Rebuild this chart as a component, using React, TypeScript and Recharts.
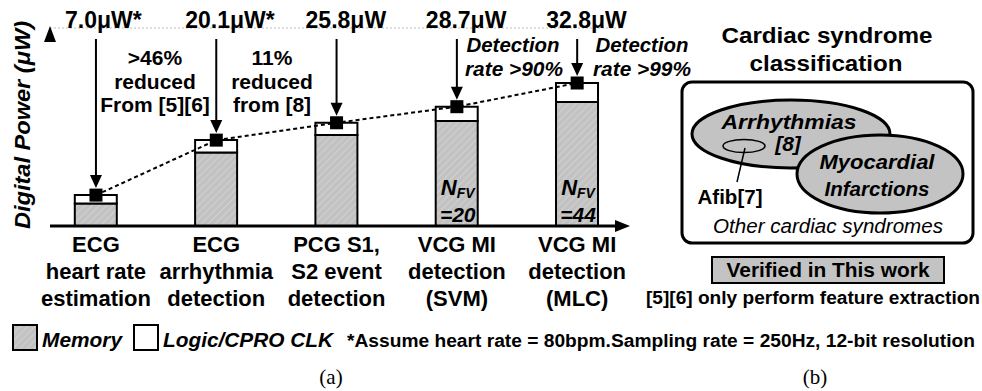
import React from 'react';
import { ComposedChart, Bar, Line, XAxis, YAxis, CartesianGrid, LabelList } from 'recharts';

const CATEGORIES: string[][] = [
  ['ECG', 'heart rate', 'estimation'],
  ['ECG', 'arrhythmia', 'detection'],
  ['PCG S1,', 'S2 event', 'detection'],
  ['VCG MI', 'detection', '(SVM)'],
  ['VCG MI', 'detection', '(MLC)'],
];
const MEMORY = [5.3, 17.4, 21.5, 24.8, 29.3];
const LOGIC = [2.0, 2.9, 2.9, 3.4, 4.5];
const POWER_LABELS = ['7.0μW*', '20.1μW*', '25.8μW', '28.7μW', '32.8μW'];
const NFV: (number | null)[] = [null, null, null, 20, 44];
const Y_TICKS = [0, 10, 20, 30, 40];
const X_TICKS = [0, 1, 2, 3, 4];

const data = CATEGORIES.map((c, i) => ({
  idx: i,
  memory: MEMORY[i],
  logic: LOGIC[i],
  total: Math.round((MEMORY[i] + LOGIC[i]) * 10) / 10,
  nfv: NFV[i],
}));

const FONT = '"Liberation Sans", Arial, Helvetica, sans-serif';

const CatTick = (props: any) => {
  const { x, y, payload } = props;
  const lines = CATEGORIES[payload.value] || [];
  return (
    <text x={x} y={y} textAnchor="middle" fontFamily={FONT} fontWeight="bold" fontSize={22} fill="#000">
      {lines.map((l, i) => (
        <tspan key={i} x={x} dy={i === 0 ? 26 : 27}>{l}</tspan>
      ))}
    </text>
  );
};

const PowerDot = (props: any) => {
  const { cx, cy, index } = props;
  if (cx == null || cy == null) return <g key={`d-${index}`} />;
  const tip = cy - 7;
  return (
    <g key={`d-${index}`}>
      <line x1={cx} x2={cx} y1={39} y2={tip - 12} stroke="#000" strokeWidth={2} />
      <polygon points={`${cx - 6},${tip - 13} ${cx + 6},${tip - 13} ${cx},${tip}`} fill="#000" />
      <rect x={cx - 6.5} y={cy - 6.5} width={13} height={13} fill="#000" />
      <text x={cx - 31} y={28} fontFamily={FONT} fontWeight="bold" fontSize={23} fill="#000">
        {POWER_LABELS[index]}
      </text>
    </g>
  );
};

const NfvLabel = (props: any) => {
  const { x, y, width, height, value } = props;
  if (value == null) return null;
  const cx = x + width / 2 + 1;
  const bottom = y + height;
  return (
    <g>
      <text x={cx} y={bottom - 31} textAnchor="middle" fontFamily={FONT} fontWeight="bold" fontStyle="italic" fill="#000">
        <tspan fontSize={22}>N</tspan>
        <tspan fontSize={14} dy={3}>FV</tspan>
      </text>
      <text x={cx} y={bottom - 4} textAnchor="middle" fontFamily={FONT} fontWeight="bold" fontStyle="italic" fontSize={21} fill="#000">
        {'=' + value}
      </text>
    </g>
  );
};

const T = (p: any) => {
  const { x, y, children, size = 21, bold = true, italic = false, anchor = 'middle', len, family = FONT } = p;
  return (
    <text
      x={x}
      y={y}
      textAnchor={anchor}
      fontFamily={family}
      fontWeight={bold ? 'bold' : 'normal'}
      fontStyle={italic ? 'italic' : 'normal'}
      fontSize={size}
      fill="#000"
      {...(len ? { textLength: len, lengthAdjust: 'spacingAndGlyphs' } : {})}
    >
      {children}
    </text>
  );
};

const Overlay = () => (
  <svg width={982} height={391} style={{ position: 'absolute', left: 0, top: 0, pointerEvents: 'none' }}>
    <defs>
      <pattern id="hatchL" patternUnits="userSpaceOnUse" width="5" height="5" patternTransform="rotate(45)">
        <rect width="5" height="5" fill="#c2c2c2" />
        <line x1="0" y1="0" x2="0" y2="5" stroke="#d6d6d6" strokeWidth="1.5" />
      </pattern>
    </defs>
    {/* axis arrowheads */}
    <polygon points="44,42 56,42 50,26" fill="#000" />
    <polygon points="615,220 615,232 630,226" fill="#000" />
    {/* y title */}
    <text
      x={30}
      y={125}
      transform="rotate(-90, 30, 125)"
      textAnchor="middle"
      fontFamily={FONT}
      fontWeight="bold"
      fontStyle="italic"
      fontSize={22}
      textLength={208}
      lengthAdjust="spacingAndGlyphs"
      fill="#000"
    >
      Digital Power (μW)
    </text>
    {/* annotations */}
    <T x={155} y={65}>&gt;46%</T>
    <T x={155} y={89}>reduced</T>
    <T x={155} y={112}>From [5][6]</T>
    <T x={272} y={65}>11%</T>
    <T x={272} y={89}>reduced</T>
    <T x={272} y={112}>from [8]</T>
    <T x={513} y={52} italic size={20} len={93}>Detection</T>
    <T x={514} y={76} italic size={20} len={98}>rate &gt;90%</T>
    <T x={642} y={52} italic size={20} len={93}>Detection</T>
    <T x={642} y={76} italic size={20} len={98}>rate &gt;99%</T>
    {/* legend */}
    <rect x={13} y={325} width={24} height={25} fill="url(#hatchL)" stroke="#000" strokeWidth={2} />
    <T x={42} y={347} anchor="start" italic len={80}>Memory</T>
    <rect x={134} y={325} width={24} height={25} fill="#fff" stroke="#000" strokeWidth={2} />
    <T x={163} y={347} anchor="start" italic len={170}>Logic/CPRO CLK</T>
    <T x={347} y={347} anchor="start" size={18} len={628}>*Assume heart rate = 80bpm.Sampling rate = 250Hz, 12-bit resolution</T>
    {/* panel (b) */}
    <T x={827} y={43} size={22} len={211}>Cardiac syndrome</T>
    <T x={826} y={71} size={22} len={153}>classification</T>
    <rect x={682} y={82} width={291} height={161} rx={10} ry={10} fill="#fff" stroke="#000" strokeWidth={3} />
    <ellipse cx={791} cy={134} rx={99} ry={34} fill="#c3c3c3" stroke="#000" strokeWidth={3} />
    <ellipse cx={880} cy={174} rx={83} ry={39} fill="#c3c3c3" stroke="#000" strokeWidth={3} />
    <ellipse cx={744} cy={146} rx={21} ry={6.5} fill="none" stroke="#000" strokeWidth={1.5} />
    <line x1={745} y1={148} x2={737} y2={182} stroke="#000" strokeWidth={1.5} />
    <T x={789} y={129} italic len={135}>Arrhythmias</T>
    <T x={788} y={151} italic>[8]</T>
    <T x={877} y={169} italic len={115}>Myocardial</T>
    <T x={877} y={196} italic len={105}>Infarctions</T>
    <T x={730} y={204} size={20} len={65}>Afib[7]</T>
    <T x={828} y={233} size={20} bold={false} italic len={230}>Other cardiac syndromes</T>
    <rect x={712} y={257} width={232} height={26} fill="#c3c3c3" stroke="#000" strokeWidth={2} />
    <T x={828} y={277} len={203}>Verified in This work</T>
    <T x={813} y={304} size={18} len={334}>[5][6] only perform feature extraction</T>
    <T x={331} y={384} size={21} bold={false} family={'"Liberation Serif", "Times New Roman", serif'}>(a)</T>
    <T x={815} y={384} size={21} bold={false} family={'"Liberation Serif", "Times New Roman", serif'}>(b)</T>
  </svg>
);

export default function App() {
  return (
    <div style={{ position: 'absolute', left: 0, top: 0, width: 982, height: 391, background: '#fff' }}>
      <ComposedChart
        width={640}
        height={391}
        data={data}
        margin={{ top: 28, right: 20, left: 50, bottom: 85 }}
      >
        <defs>
          <pattern id="hatch" patternUnits="userSpaceOnUse" width="5" height="5" patternTransform="rotate(45)">
            <rect width="5" height="5" fill="#c2c2c2" />
            <line x1="0" y1="0" x2="0" y2="5" stroke="#d6d6d6" strokeWidth="1.5" />
          </pattern>
        </defs>
        <CartesianGrid vertical={false} stroke="#bdbdbd" strokeDasharray="2 2" />
        <XAxis
          type="number"
          dataKey="idx"
          domain={[-0.382, 4.356]}
          ticks={X_TICKS}
          height={80}
          tickLine={false}
          tickSize={0}
          tickMargin={0}
          interval={0}
          tick={<CatTick />}
          axisLine={{ stroke: '#000', strokeWidth: 3 }}
        />
        <YAxis
          type="number"
          domain={[0, 46.8]}
          ticks={Y_TICKS}
          width={0}
          tick={false}
          tickLine={false}
          axisLine={{ stroke: '#000', strokeWidth: 3 }}
        />
        <Bar dataKey="memory" stackId="p" barSize={42} fill="url(#hatch)" stroke="#000" strokeWidth={2} isAnimationActive={false}>
          <LabelList dataKey="nfv" content={<NfvLabel />} />
        </Bar>
        <Bar dataKey="logic" stackId="p" barSize={42} fill="#fff" stroke="#000" strokeWidth={2} isAnimationActive={false} />
        <Line
          dataKey="total"
          type="linear"
          stroke="#000"
          strokeWidth={2}
          strokeDasharray="4 3"
          dot={PowerDot}
          activeDot={false}
          isAnimationActive={false}
        />
      </ComposedChart>
      <Overlay />
    </div>
  );
}
